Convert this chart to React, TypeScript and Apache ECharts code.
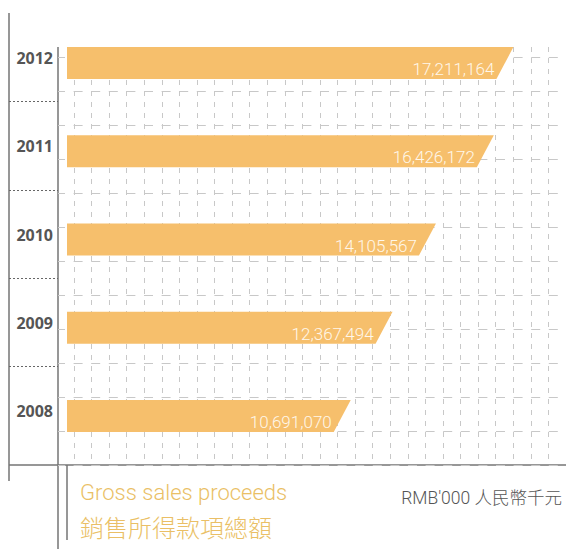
import React, { useEffect, useRef } from "react";
import * as echarts from "echarts";

const years = ["2008", "2009", "2010", "2011", "2012"];
const proceeds = [10691070, 12367494, 14105567, 16426172, 17211164];
const titleEn = "Gross sales proceeds";
const titleZh = "銷售所得款項總額";
const unitText = "RMB'000 人民幣千元";

const BAR_COLOR = "#F6BF6C";
const GRID_COLOR = "#c8c8c8";
const FRAME_COLOR = "#747474";

export default function App() {
  const ref = useRef<HTMLDivElement>(null);

  useEffect(() => {
    if (!ref.current) return;
    const chart = echarts.init(ref.current, undefined, { renderer: "svg" });
    const fmt = (v: number) => v.toLocaleString("en-US");
    const hidden = { show: false };

    const option: any = {
      animation: false,
      backgroundColor: "#ffffff",
      grid: [
        { left: 67, top: 19, width: 500, height: 441 }, // bars
        { left: 74, top: 47, width: 492.5, height: 418 }, // vertical dashed lines
        { left: 58, top: 57, width: 508, height: 408 }, // horizontal dashed lines
        { left: 9, top: 101.7, width: 49, height: 264.6 }, // left separators
        { left: 58, top: 14, width: 10, height: 441 }, // year labels
      ],
      xAxis: [
        { gridIndex: 0, type: "value", min: 0, max: 20000000, show: false },
        {
          gridIndex: 1, type: "value", min: 0, max: 28, interval: 1,
          axisLine: hidden, axisTick: hidden, axisLabel: hidden,
          splitLine: { show: true, lineStyle: { color: GRID_COLOR, width: 1, type: [5, 6] } },
        },
        { gridIndex: 2, type: "value", min: 0, max: 1, show: false },
        { gridIndex: 3, type: "value", min: 0, max: 1, show: false },
        { gridIndex: 4, type: "value", min: 0, max: 1, show: false },
      ],
      yAxis: [
        { gridIndex: 0, type: "category", data: years, show: false },
        { gridIndex: 1, type: "value", min: 0, max: 1, show: false },
        {
          gridIndex: 2, type: "value", min: 0, max: 12, interval: 1,
          axisLine: hidden, axisTick: hidden, axisLabel: hidden,
          splitLine: { show: true, lineStyle: { color: GRID_COLOR, width: 1, type: [9, 8.6], dashOffset: 2 } },
        },
        {
          gridIndex: 3, type: "value", min: 0, max: 3, interval: 1,
          axisLine: hidden, axisTick: hidden, axisLabel: hidden,
          splitLine: { show: true, lineStyle: { color: "#666666", width: 1.2, type: [2, 2] } },
        },
        {
          gridIndex: 4, type: "category", data: years,
          axisLine: hidden, axisTick: hidden, splitLine: hidden,
          axisLabel: {
            margin: 5, color: "#555555", fontSize: 16, fontWeight: "bold",
            fontFamily: "'Open Sans', sans-serif",
          },
        },
      ],
      title: [
        {
          text: titleEn, left: 80, top: 481, padding: 0,
          textStyle: { color: "#EABF66", fontSize: 22, fontWeight: 300, fontFamily: "Roboto, sans-serif" },
        },
        {
          text: titleZh, left: 80, top: 514, padding: 0,
          textStyle: { color: "#EABF66", fontSize: 24, fontWeight: 300, fontFamily: "'Noto Sans CJK TC', sans-serif" },
        },
        {
          text: unitText, right: 4, top: 489, padding: 0,
          textStyle: { color: "#555555", fontSize: 17.5, fontWeight: 300, fontFamily: "Roboto, 'Noto Sans CJK TC', sans-serif" },
        },
      ],
      graphic: [
        { type: "line", shape: { x1: 9, y1: 13, x2: 9, y2: 481 }, style: { stroke: FRAME_COLOR, lineWidth: 1.5 } },
        { type: "line", shape: { x1: 58, y1: 47, x2: 58, y2: 549 }, style: { stroke: FRAME_COLOR, lineWidth: 1.5 } },
        { type: "line", shape: { x1: 67, y1: 465, x2: 67, y2: 540 }, style: { stroke: FRAME_COLOR, lineWidth: 1.5 } },
        { type: "line", shape: { x1: 9, y1: 465, x2: 566, y2: 465 }, style: { stroke: FRAME_COLOR, lineWidth: 1.5 } },
      ],
      series: [
        {
          type: "custom",
          xAxisIndex: 0,
          yAxisIndex: 0,
          data: proceeds.map((v, i) => [v, i]),
          renderItem: (params: any, api: any) => {
            const v = api.value(0);
            const c = api.value(1);
            const end = api.coord([v, c]);
            const start = api.coord([0, c]);
            const h = 32;
            const slant = 17;
            const top = end[1] - h / 2;
            const bottom = end[1] + h / 2;
            return {
              type: "group",
              children: [
                {
                  type: "polygon",
                  shape: {
                    points: [
                      [start[0], top],
                      [end[0] + slant, top],
                      [end[0], bottom],
                      [start[0], bottom],
                    ],
                  },
                  style: { fill: BAR_COLOR },
                },
                {
                  type: "text",
                  x: end[0] - 2,
                  y: end[1] + 6,
                  style: {
                    text: fmt(v),
                    align: "right",
                    verticalAlign: "middle",
                    fill: "#FFF7EA",
                    fontSize: 17,
                    fontWeight: 300,
                    fontFamily: "Roboto, sans-serif",
                  },
                },
              ],
            };
          },
        },
      ],
    };

    chart.setOption(option);
    return () => chart.dispose();
  }, []);

  return (
    <div
      ref={ref}
      style={{ position: "fixed", left: 0, top: 0, width: 566, height: 549 }}
    />
  );
}
